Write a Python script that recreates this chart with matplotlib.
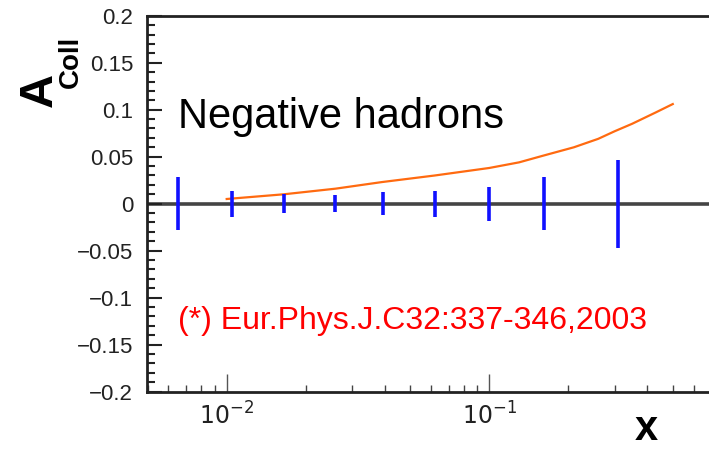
import numpy as np
import matplotlib
matplotlib.use("Agg")
import matplotlib.pyplot as plt
from matplotlib.ticker import LogLocator, MultipleLocator, FixedLocator

# Puntos de datos (asimetria de Collins, hadrones negativos)
x_pts = [0.0065, 0.0105, 0.0165, 0.0258, 0.0394, 0.062, 0.100, 0.161, 0.310]
y_pts = [0, 0, 0, 0, 0, 0, 0, 0, 0]
y_err = [0.028, 0.014, 0.010, 0.009, 0.012, 0.014, 0.018, 0.028, 0.047]

# Curva de prediccion (*)
x_curve = [0.010, 0.0165, 0.026, 0.039, 0.062, 0.10, 0.13, 0.16, 0.21, 0.26, 0.30, 0.35, 0.43, 0.50]
y_curve = [0.005, 0.010, 0.016, 0.023, 0.030, 0.038, 0.044, 0.051, 0.060, 0.069, 0.077, 0.085, 0.097, 0.106]

tick_font = 'Liberation Sans'

fig = plt.figure(figsize=(7.09, 4.5), dpi=100)
ax = fig.add_axes([0.2073, 0.1296, 0.7927, 0.8355])

ax.axhline(0, color='#444444', lw=2.6, zorder=1)
ax.errorbar(x_pts, y_pts, yerr=y_err, fmt='none', ecolor='#1010ff', elinewidth=2.6, capsize=0, zorder=3)
ax.plot(x_curve, y_curve, color='#ff6a10', lw=1.6, zorder=2)

ax.set_xscale('log')
ax.set_xlim(0.00497, 0.687)
ax.set_ylim(-0.2, 0.2)

ax.yaxis.set_major_locator(MultipleLocator(0.05))
ax.yaxis.set_minor_locator(MultipleLocator(0.01))
ax.xaxis.set_major_locator(FixedLocator([0.01, 0.1]))
ax.xaxis.set_minor_locator(LogLocator(base=10, subs=np.arange(2, 10)))
ax.xaxis.set_major_formatter(plt.FuncFormatter(lambda v, p: r'$10^{%d}$' % round(np.log10(v))))
ax.yaxis.set_major_formatter(plt.FuncFormatter(lambda v, p: '0' if abs(v) < 1e-9 else ('%g' % v).replace('-', '\u2212')))

ax.tick_params(axis='y', which='major', direction='in', length=11, width=1.5, color='#222222', pad=10)
ax.tick_params(axis='y', which='minor', direction='in', length=6, width=1.5, color='#222222')
ax.tick_params(axis='x', which='major', direction='in', length=13, width=1.0, color='#555555', pad=8)
ax.tick_params(axis='x', which='minor', direction='in', length=5, width=1.0, color='#444444')
for lab in ax.get_yticklabels():
    lab.set_family(tick_font)
    lab.set_fontsize(16)
    lab.set_color('#222222')
for lab in ax.get_xticklabels():
    lab.set_fontsize(17)
    lab.set_color('#222222')

for s in ['top', 'left', 'bottom']:
    ax.spines[s].set_linewidth(2.0)
    ax.spines[s].set_color('#222222')
ax.spines['right'].set_visible(False)

ax.text(0.055, 0.70, 'Negative hadrons', transform=ax.transAxes, fontsize=30,
        family='Liberation Sans', color='black', va='baseline', ha='left')
ax.text(0.055, 0.167, '(*) Eur.Phys.J.C32:337-346,2003', transform=ax.transAxes, fontsize=23,
        family='Liberation Sans', color='#ff0000', va='baseline', ha='left')

# Etiquetas de los ejes al estilo ROOT
fig.text(40 / 709, 1 - 90 / 450, 'A', rotation=90, fontsize=34, fontweight='bold',
         family='Liberation Sans', ha='center', va='center')
fig.text(71 / 709, 1 - 62 / 450, 'Coll', rotation=90, fontsize=20, fontweight='bold',
         family='Liberation Sans', ha='center', va='center')
fig.text(646 / 709, 0.003, 'x', fontsize=30, fontweight='bold',
         family='Liberation Sans', ha='center', va='bottom')

plt.savefig('out.png', dpi=100)
